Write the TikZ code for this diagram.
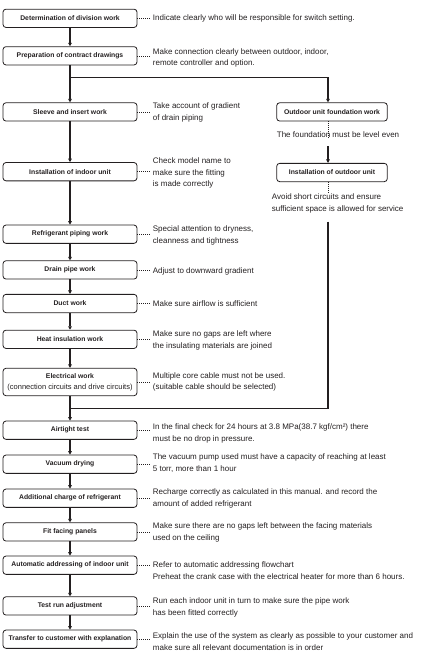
\documentclass[tikz,border=0pt]{standalone}
\usepackage{fontspec}
\setmainfont{Liberation Sans}
\usetikzlibrary{arrows.meta}
\definecolor{ink}{RGB}{35,31,32}
\begin{document}
\begin{tikzpicture}[x=1pt,y=-1pt,
  box/.style={draw=ink, line width=0.8pt, rounded corners=3pt, minimum width=134pt, minimum height=18.3pt, inner sep=0pt, font=\fontsize{6.8}{11}\selectfont\bfseries, text=ink, align=center},
  rbox/.style={box, minimum width=110.6pt},
  desc/.style={anchor=west, inner sep=0pt, font=\fontsize{8}{11.8}\selectfont, text=ink, align=left},
  flow/.style={draw=ink, line width=1.2pt, -{Triangle[length=3.5pt,width=3.6pt]}},
  heavy/.style={draw=ink, line width=1.3pt},
  dots/.style={draw=ink, line width=0.6pt, dash pattern=on 0.8pt off 1.2pt}]
\useasboundingbox (0,0) rectangle (422,656);
% left column boxes
\node[box] (b1) at (70,18.3) {Determination of division work};
\node[box] (b2) at (70,55.8) {Preparation of contract drawings};
\node[box] (b3) at (70,111.9) {Sleeve and insert work};
\node[box] (b4) at (70,171.7) {Installation of indoor unit};
\node[box] (b5) at (70,234.2) {Refrigerant piping work};
\node[box] (b6) at (70,269.9) {Drain pipe work};
\node[box] (b7) at (70,303.5) {Duct work};
\node[box] (b8) at (70,339.3) {Heat insulation work};
\node[box, minimum height=27.4pt] (b9) at (70,382) {Electrical work\\{\fontsize{7.5}{11}\selectfont\mdseries (connection circuits and drive circuits)}};
\node[box] (b10) at (70,430.2) {Airtight test};
\node[box] (b11) at (70,464.2) {Vacuum drying};
\node[box] (b12) at (70,498.2) {Additional charge of refrigerant};
\node[box] (b13) at (70,531.9) {Fit facing panels};
\node[box] (b14) at (70,565.2) {Automatic addressing of indoor unit};
\node[box] (b15) at (70,605.9) {Test run adjustment};
\node[box] (b16) at (70,639.2) {Transfer to customer with explanation};
% right column
\node[rbox] (r1) at (332,111.9) {Outdoor unit foundation work};
\node[rbox] (r2) at (332,172.5) {Installation of outdoor unit};
\node[desc] (rt1) at (276.7,135) {The foundation must be level even};
\node[desc] (rt2) at (271.7,203.2) {Avoid short circuits and ensure\\sufficient space is allowed for service};
% descriptions
\node[desc] (d1) at (152.7,18.3) {Indicate clearly who will be responsible for switch setting.};
\node[desc] (d2) at (152.7,58) {Make connection clearly between outdoor, indoor,\\remote controller and option.};
\node[desc] (d3) at (152.7,112.8) {Take account of gradient\\of drain piping};
\node[desc] (d4) at (152.7,173) {Check model name to\\make sure the fitting\\is made correctly};
\node[desc] (d5) at (152.7,235.5) {Special attention to dryness,\\cleanness and tightness};
\node[desc] (d6) at (152.7,271) {Adjust to downward gradient};
\node[desc] (d7) at (152.7,303.3) {Make sure airflow is sufficient};
\node[desc] (d8) at (152.7,340.3) {Make sure no gaps are left where\\the insulating materials are joined};
\node[desc] (d9) at (152.7,382) {Multiple core cable must not be used.\\(suitable cable should be selected)};
\node[desc] (d10) at (152.7,433.5) {In the final check for 24 hours at 3.8 MPa(38.7 kgf/cm²) there\\must be no drop in pressure.};
\node[desc] (d11) at (152.7,463) {The vacuum pump used must have a capacity of reaching at least\\5 torr, more than 1 hour};
\node[desc] (d12) at (152.7,498.3) {Recharge correctly as calculated in this manual. and record the\\amount of added refrigerant};
\node[desc] (d13) at (152.7,532.3) {Make sure there are no gaps left between the facing materials\\used on the ceiling};
\node[desc] (d14) at (152.7,570.8) {Refer to automatic addressing flowchart\\Preheat the crank case with the electrical heater for more than 6 hours.};
\node[desc] (d15) at (152.7,607.8) {Run each indoor unit in turn to make sure the pipe work\\has been fitted correctly};
\node[desc] (d16) at (152.7,641.7) {Explain the use of the system as clearly as possible to your customer and\\make sure all relevant documentation is in order};
% dotted leaders
\foreach \i in {1,...,16} {\draw[dots] (b\i.east) -- ++(13,0);}
% coordinates
\coordinate (rx) at (328,0);
\coordinate (j1) at (70,77.3);
\coordinate (a1) at (328,146);
\coordinate (e1) at (328,138);
\coordinate (e2) at (328,193);
\coordinate (t1) at (328,221.5);
\coordinate (j2) at (70,408.5);
% main flow
\draw[flow] (b1) -- (b2);
\draw[heavy] (b2.south) -- (j1);
\draw[flow] (j1) -- (b3.north);
\draw[flow] (j1) -| (r1.north -| rx);
\draw[flow] (b3) -- (b4);
\draw[flow] (b4) -- (b5);
\draw[flow] (b5) -- (b6);
\draw[flow] (b6) -- (b7);
\draw[flow] (b7) -- (b8);
\draw[flow] (b8) -- (b9);
\draw[flow] (b9) -- (b10);
\draw[flow] (b10) -- (b11);
\draw[flow] (b11) -- (b12);
\draw[flow] (b12) -- (b13);
\draw[flow] (b13) -- (b14);
\draw[flow] (b14) -- (b15);
\draw[flow] (b15) -- (b16);
% right branch
\draw[dots] (r1.south -| rx) -- (e1);
\draw[flow] (a1) -- (r2.north -| rx);
\draw[dots] (r2.south -| rx) -- (e2);
\draw[heavy] (t1) |- (j2);
\end{tikzpicture}
\end{document}
